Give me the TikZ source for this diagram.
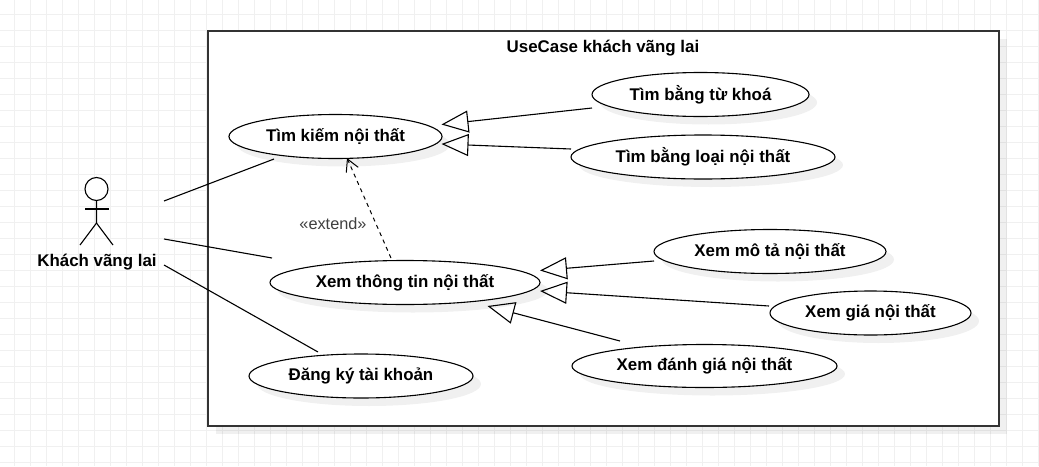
\documentclass[tikz,border=0pt]{standalone}
\usepackage{fontspec}
\setmainfont{Liberation Sans}
\usetikzlibrary{shapes.geometric, shadows, arrows.meta}
\definecolor{gridline}{HTML}{F0F0F0}
\tikzset{>=latex}
\tikzset{
  usecase/.style={ellipse, draw=black, fill=white, line width=1.1pt, inner sep=0pt, font=\fontsize{16.9}{18}\selectfont\bfseries,
    drop shadow={shadow xshift=8pt, shadow yshift=-8pt, fill=black, opacity=.06}},
  assoc/.style={line width=1.1pt},
  general/.style={line width=1.1pt, -{Triangle[open, length=27pt, width=22pt]}},
  extendarrow/.style={line width=1pt, dash pattern=on 4pt off 4pt, -{Straight Barb[length=12pt, width=13pt]}},
}

\begin{document}
\begin{tikzpicture}[x=1pt, y=-1pt]
    \useasboundingbox (0,0) rectangle (1039,466);

    % Grid
    \foreach \x in {14,30,...,1038}{
        \draw[gridline, line width=1pt] (\x,0) -- (\x,466);
    }
    \foreach \y in {14,30,...,462}{
        \draw[gridline, line width=1pt] (0,\y) -- (1039,\y);
    }

    % System frame
    \node[rectangle, draw=black!80, fill=white, line width=1.1pt, inner sep=0pt, minimum width=791pt, minimum height=395pt,
        drop shadow={shadow xshift=8pt, shadow yshift=-8pt, fill=black, opacity=.06}] (frame) at (603.5,228.5) {};
    \node[font=\fontsize{16.9}{18}\selectfont\bfseries] (title) at (603,48.5) {UseCase khách vãng lai};

    % Use cases
    \node[usecase, minimum width=213pt, minimum height=44pt] (search) at (335.5,136.5) {Tìm kiếm nội thất};
    \node[usecase, minimum width=217pt, minimum height=44pt] (keyword) at (700.5,94.5) {Tìm bằng từ khoá};
    \node[usecase, minimum width=264pt, minimum height=44pt] (category) at (703,157) {Tìm bằng loại nội thất};
    \node[usecase, minimum width=270pt, minimum height=44pt] (info) at (405,282.5) {Xem thông tin nội thất};
    \node[usecase, minimum width=232pt, minimum height=44pt] (describe) at (770,251.5) {Xem mô tả nội thất};
    \node[usecase, minimum width=201pt, minimum height=44pt] (price) at (870.5,313) {Xem giá nội thất};
    \node[usecase, minimum width=265pt, minimum height=43pt] (review) at (704.5,366) {Xem đánh giá nội thất};
    \node[usecase, minimum width=224pt, minimum height=44pt] (signup) at (361,376) {Đăng ký tài khoản};

    % Actor
    \node[circle, draw=black, fill=white, line width=1.1pt, inner sep=0pt, minimum size=23pt] (head) at (96.5,189) {};
    \coordinate (hip) at (96.5,223);
    \coordinate (armL) at (85,209);
    \coordinate (armR) at (109,209);
    \coordinate (legL) at (80,245);
    \coordinate (legR) at (113,245);
    \draw[assoc] (head) -- (hip) -- (legL);
    \draw[assoc] (hip) -- (legR);
    \draw[assoc] (armL) -- (armR);
    \node[font=\fontsize{16.9}{18}\selectfont\bfseries] (guest) at (97,262.5) {Khách vãng lai};

    % Associations
    \coordinate (a1) at (164,201);
    \coordinate (a2) at (164,239);
    \coordinate (a3) at (164,265);
    \coordinate (e1) at (274,159);
    \coordinate (e2) at (272,258);
    \coordinate (e3) at (318,352);
    \draw[assoc] (a1) -- (e1);
    \draw[assoc] (a2) -- (e2);
    \draw[assoc] (a3) -- (e3);

    % Generalizations
    \coordinate (g1) at (592,108);
    \coordinate (t1) at (441.5,124.5);
    \coordinate (g2) at (571,149);
    \coordinate (t2) at (441.5,144);
    \coordinate (g3) at (654,261);
    \coordinate (t3) at (540,270.5);
    \coordinate (g4) at (769,306);
    \coordinate (t4) at (540,291);
    \coordinate (g5) at (620,341);
    \coordinate (t5) at (487.5,306);
    \draw[general] (g1) -- (t1);
    \draw[general] (g2) -- (t2);
    \draw[general] (g3) -- (t3);
    \draw[general] (g4) -- (t4);
    \draw[general] (g5) -- (t5);

    % Extend
    \coordinate (x1) at (391,258);
    \coordinate (x2) at (347,158);
    \draw[extendarrow] (x1) -- (x2);
    \node[font=\fontsize{16.3}{18}\selectfont, text=black!75] (extend) at (333,224) {«extend»};
\end{tikzpicture}
\end{document}
